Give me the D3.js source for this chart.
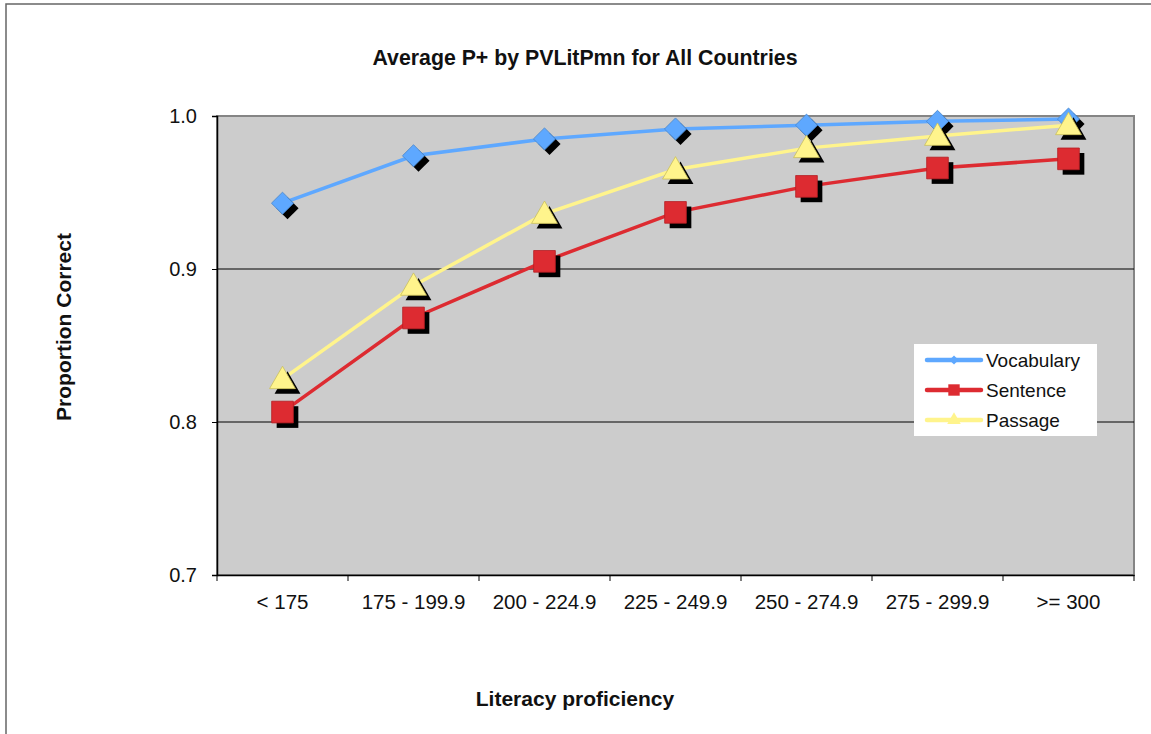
<!DOCTYPE html>
<html>
<head>
<meta charset="utf-8">
<script src="https://cdn.jsdelivr.net/npm/d3@7"></script>
<style>
  html, body { margin: 0; padding: 0; background: #fff; }
  svg { display: block; font-family: "Liberation Sans", Arial, sans-serif; }
</style>
</head>
<body>
<svg id="chart" width="1151" height="734"></svg>
<script>
// Score bands on the literacy scale
const categories = ["< 175", "175 - 199.9", "200 - 224.9", "225 - 249.9", "250 - 274.9", "275 - 299.9", ">= 300"];

// Average proportion correct per band
const vocabulary = [0.943, 0.974, 0.985, 0.9915, 0.994, 0.9965, 0.998];
const sentence   = [0.8065, 0.868, 0.905, 0.937, 0.954, 0.966, 0.972];
const passage    = [0.828, 0.889, 0.936, 0.965, 0.979, 0.987, 0.994];

const yTicks = [0.7, 0.8, 0.9, 1.0];

const seriesNames = ["Vocabulary", "Sentence", "Passage"];
const seriesValues = [vocabulary, sentence, passage];
const seriesColors = ["#5ea8ff", "#dd2b31", "#fff48c"];
const seriesStroke = ["#4a88cc", "#b52025", "#c9bf5c"];
// diamonds are squares turned by 45 degrees
const seriesShapes = [d3.symbolSquare, d3.symbolSquare, d3.symbolTriangle];
const seriesRotate = [45, 0, 0];
const markerSizes = [245, 470, 290];
const legendSizes = [42, 130, 80];

const svg = d3.select("#chart");
const W = 1151, H = 734;
const plot = { left: 217, right: 1134, top: 116, bottom: 575 };

// outer chart frame (runs off the right and bottom edges)
svg.append("rect")
  .attr("x", 6).attr("y", 4)
  .attr("width", W + 20).attr("height", H + 20)
  .attr("fill", "#fff").attr("stroke", "#666").attr("stroke-width", 1.5);

const x = d3.scaleBand().domain(categories).range([plot.left, plot.right]).paddingInner(0).paddingOuter(0);
const y = d3.scaleLinear().domain([0.7, 1.0]).range([plot.bottom, plot.top]);

// plot area
svg.append("rect")
  .attr("x", plot.left).attr("y", plot.top)
  .attr("width", plot.right - plot.left).attr("height", plot.bottom - plot.top)
  .attr("fill", "#cccccc").attr("stroke", "#858585").attr("stroke-width", 2);

// horizontal gridlines
svg.append("g").selectAll("line")
  .data(yTicks.filter(t => t > 0.7 && t < 1.0))
  .join("line")
  .attr("x1", plot.left).attr("x2", plot.right)
  .attr("y1", d => y(d)).attr("y2", d => y(d))
  .attr("stroke", "#000").attr("stroke-width", 1);

// y axis
const yAxis = svg.append("g")
  .attr("transform", `translate(${plot.left},0)`)
  .call(d3.axisLeft(y).tickValues(yTicks).tickFormat(d3.format(".1f")).tickSize(5).tickPadding(15));
yAxis.select(".domain").attr("stroke", "#000").attr("stroke-width", 1.5);
yAxis.selectAll(".tick line").attr("stroke", "#000");
yAxis.selectAll("text").attr("font-size", 20).attr("fill", "#111").style("font-family", "Liberation Sans, Arial, sans-serif");

// x axis labels
const xAxis = svg.append("g")
  .attr("transform", `translate(0,${plot.bottom})`)
  .call(d3.axisBottom(x).tickSize(0).tickPadding(19));
xAxis.select(".domain").attr("stroke", "#000").attr("stroke-width", 1.5);
xAxis.selectAll("text").attr("font-size", 20.5).attr("fill", "#111").style("font-family", "Liberation Sans, Arial, sans-serif");

// x tick marks at category boundaries
const bounds = categories.map(c => x(c)).concat([x(categories[categories.length - 1]) + x.bandwidth()]);
svg.append("g").selectAll("line")
  .data(bounds)
  .join("line")
  .attr("x1", d => d).attr("x2", d => d)
  .attr("y1", plot.bottom).attr("y2", plot.bottom + 6)
  .attr("stroke", "#000").attr("stroke-width", 1);

const cx = c => x(c) + x.bandwidth() / 2;
const line = d3.line().x((d, i) => cx(categories[i])).y(d => y(d));

// series: line, shadowed markers
seriesValues.forEach((vals, s) => {
  const g = svg.append("g");
  g.append("path")
    .datum(vals)
    .attr("d", line)
    .attr("fill", "none")
    .attr("stroke", seriesColors[s])
    .attr("stroke-width", 3.5);
  const sym = d3.symbol().type(seriesShapes[s]).size(markerSizes[s]);
  const dyShape = s === 2 ? 2 : 0;
  g.selectAll("path.shadow")
    .data(vals)
    .join("path")
    .attr("class", "shadow")
    .attr("d", sym)
    .attr("transform", (d, i) => `translate(${cx(categories[i]) + 5},${y(d) + 5 + dyShape}) rotate(${seriesRotate[s]})`)
    .attr("fill", "#000");
  g.selectAll("path.marker")
    .data(vals)
    .join("path")
    .attr("class", "marker")
    .attr("d", sym)
    .attr("transform", (d, i) => `translate(${cx(categories[i])},${y(d) + dyShape}) rotate(${seriesRotate[s]})`)
    .attr("fill", seriesColors[s])
    .attr("stroke", seriesStroke[s])
    .attr("stroke-width", 0.8);
});

// legend
const legend = svg.append("g").attr("transform", "translate(914,344)");
legend.append("rect")
  .attr("width", 183).attr("height", 92)
  .attr("fill", "#fff");
seriesNames.forEach((name, s) => {
  const row = legend.append("g").attr("transform", `translate(0,${16 + s * 30})`);
  row.append("line")
    .attr("x1", 13).attr("x2", 67)
    .attr("stroke", seriesColors[s]).attr("stroke-width", 4.5).attr("stroke-linecap", "round");
  row.append("path")
    .attr("d", d3.symbol().type(seriesShapes[s]).size(legendSizes[s]))
    .attr("transform", `translate(40,0) rotate(${seriesRotate[s]})`)
    .attr("fill", seriesColors[s]);
  row.append("text")
    .attr("x", 72).attr("y", 0).attr("dy", "0.35em")
    .attr("font-size", 19).attr("fill", "#111")
    .text(name);
});

// titles
svg.append("text")
  .attr("x", 585).attr("y", 65)
  .attr("text-anchor", "middle")
  .attr("font-size", 21.3).attr("font-weight", "bold").attr("fill", "#111")
  .text("Average P+ by PVLitPmn for All Countries");

svg.append("text")
  .attr("x", 575).attr("y", 706)
  .attr("text-anchor", "middle")
  .attr("font-size", 21).attr("font-weight", "bold").attr("fill", "#111")
  .text("Literacy proficiency");

svg.append("text")
  .attr("transform", "translate(71,327) rotate(-90)")
  .attr("text-anchor", "middle")
  .attr("font-size", 21).attr("font-weight", "bold").attr("fill", "#111")
  .text("Proportion Correct");
</script>
</body>
</html>
